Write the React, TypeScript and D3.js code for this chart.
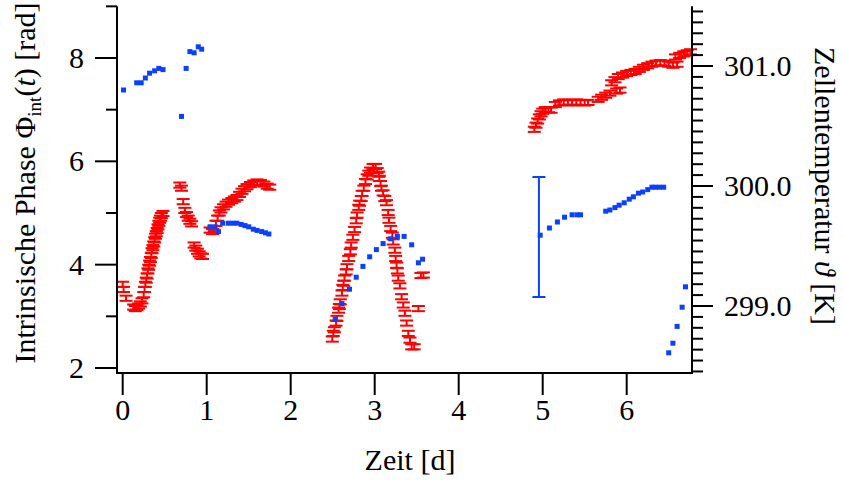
import React from "react";
import * as d3 from "d3";

// ---- data ----
const phaseDays = [
  0.0, 0.01, 0.04, 0.13, 0.15, 0.17, 0.19, 0.21, 0.23,
  0.25, 0.26, 0.27, 0.28, 0.29, 0.3, 0.31, 0.32, 0.33, 0.34, 0.35, 0.36, 0.37, 0.38, 0.39, 0.4, 0.41, 0.42, 0.43, 0.44, 0.45, 0.46, 0.48,
  0.68, 0.7, 0.72, 0.74, 0.76, 0.78, 0.8, 0.82,
  0.85, 0.87, 0.89, 0.91, 0.93, 0.95,
  1.04, 1.07, 1.09, 1.11, 1.13, 1.15, 1.17, 1.2, 1.23, 1.26, 1.3, 1.33, 1.36, 1.39, 1.42, 1.45, 1.48, 1.52, 1.56, 1.6, 1.64, 1.68, 1.72, 1.75,
  2.495, 2.507, 2.52, 2.54, 2.55, 2.57, 2.58, 2.59, 2.61, 2.62, 2.63, 2.64, 2.66, 2.67, 2.69, 2.71, 2.72, 2.74, 2.76, 2.78, 2.79, 2.81, 2.82, 2.84, 2.85, 2.87, 2.89, 2.91, 2.93, 2.95, 2.98,
  3.01, 3.03, 3.05, 3.055, 3.07, 3.08, 3.1, 3.12, 3.14, 3.16, 3.17, 3.19, 3.21, 3.22, 3.24, 3.25, 3.26, 3.27, 3.28, 3.3, 3.32, 3.34, 3.36, 3.38, 3.4, 3.42, 3.44, 3.47,
  3.52, 3.55, 3.58,
  4.9, 4.92, 4.94, 4.96, 4.98, 5.0, 5.03, 5.07, 5.1,
  5.15, 5.2, 5.25, 5.3, 5.35, 5.4, 5.45, 5.5, 5.54,
  5.66, 5.7, 5.75, 5.8, 5.88, 5.92,
  5.82, 5.86, 5.9, 5.95, 6.0, 6.05, 6.1,
  6.15, 6.2, 6.25, 6.3, 6.35, 6.4, 6.45, 6.5, 6.55, 6.6,
  6.58, 6.63, 6.68, 6.72, 6.76,
];
const phaseVals = [
  3.62, 3.52, 3.35, 3.18, 3.15, 3.17, 3.2, 3.24, 3.3,
  3.42, 3.52, 3.62, 3.7, 3.78, 3.88, 3.95, 4.03, 4.1, 4.18, 4.27, 4.33, 4.4, 4.48, 4.55, 4.6, 4.66, 4.73, 4.8, 4.86, 4.9, 4.95, 4.99,
  5.54, 5.48, 5.22, 5.05, 4.97, 4.9, 4.84, 4.79,
  4.38, 4.32, 4.26, 4.21, 4.17, 4.16,
  4.67, 4.64, 4.7, 4.8, 4.9, 5.0, 5.06, 5.12, 5.17, 5.21, 5.24, 5.27, 5.3, 5.36, 5.42, 5.47, 5.51, 5.55, 5.58, 5.6, 5.59, 5.56, 5.52, 5.5,
  2.56, 2.67, 2.74, 2.87, 2.96, 3.12, 3.19, 3.28, 3.45, 3.56, 3.64, 3.74, 3.86, 3.96, 4.12, 4.25, 4.38, 4.53, 4.68, 4.85, 4.96, 5.11, 5.19, 5.28, 5.38, 5.48, 5.61, 5.7, 5.77, 5.83, 5.9,
  5.9, 5.82, 5.75, 5.67, 5.57, 5.48, 5.39, 5.28, 5.2, 5.01, 4.86, 4.7, 4.57, 4.44, 4.28, 4.12, 3.99, 3.88, 3.74, 3.59, 3.38, 3.22, 3.06, 2.87, 2.67, 2.54, 2.41, 2.41,
  3.15, 3.79, 3.8,
  6.62, 6.7, 6.78, 6.86, 6.92, 6.97, 7.0, 7.0, 6.99,
  7.1, 7.13, 7.15, 7.14, 7.13, 7.15, 7.14, 7.13, 7.14,
  7.2, 7.24, 7.28, 7.32, 7.36, 7.38,
  7.52, 7.58, 7.64, 7.67, 7.7, 7.72, 7.74,
  7.78, 7.82, 7.85, 7.88, 7.9, 7.91, 7.9, 7.88, 7.86, 7.88,
  8.02, 8.05, 8.08, 8.1, 8.12,
];
const phaseErr = 0.05;

const tempDays = [
  0.01, 0.167, 0.22, 0.27, 0.32, 0.38, 0.43, 0.48, 0.7, 0.755, 0.8, 0.85, 0.9, 0.94,
  1.04, 1.1, 1.14, 1.19, 1.257, 1.31, 1.36, 1.41, 1.456, 1.5, 1.555, 1.6, 1.655, 1.7, 1.74,
  2.53, 2.61, 2.7, 2.78, 2.86, 2.94, 3.02, 3.1, 3.19, 3.27, 3.35, 3.44, 3.52, 3.57,
  4.97, 5.08, 5.175, 5.26, 5.35, 5.41, 5.45, 5.75, 5.8, 5.86, 5.91, 5.97, 6.03, 6.08, 6.14, 6.19, 6.25, 6.3, 6.34, 6.39, 6.44,
  6.5, 6.55, 6.6, 6.66, 6.7,
];
const tempVals = [
  300.8, 300.86, 300.86, 300.9, 300.94, 300.96, 300.98, 300.97, 300.58, 300.98, 301.12, 301.11, 301.16, 301.14,
  299.66, 299.66, 299.62, 299.69, 299.69, 299.69, 299.69, 299.68, 299.67, 299.66, 299.64, 299.63, 299.62, 299.61, 299.6,
  298.89, 299.02, 299.14, 299.24, 299.33, 299.41, 299.47, 299.52, 299.56, 299.58, 299.58, 299.51, 299.36, 299.39,
  299.59, 299.65, 299.7, 299.74, 299.76, 299.76, 299.76, 299.79, 299.8, 299.82, 299.84, 299.86, 299.89, 299.91, 299.94, 299.95, 299.97, 299.99, 299.99, 299.99, 299.99,
  298.61, 298.69, 298.83, 298.99, 299.16,
];
const tempErrorBars = [{ day: 4.955, value: 299.575, err: 0.5 }];

const xTicks = [0, 1, 2, 3, 4, 5, 6];
const leftMajor = [2, 4, 6, 8];
const leftMinor = [3, 5, 7, 9];
const rightMajor = [299, 300, 301];
const rightLabels = ["299.0", "300.0", "301.0"];

// ---- layout ----
const W = 844, H = 480;
const X0 = 117, X1 = 692, YB = 373;
const RED = "#ff0000";
const BLUE = "#0a40ff";
const FONT = "'Liberation Serif', 'Times New Roman', serif";

export default function App() {
  const x = d3.scaleLinear().domain([0, 6]).range([122.7, 626.7]);
  const yL = d3.scaleLinear().domain([2, 8]).range([368, 58]);
  const yR = d3.scaleLinear().domain([299, 301]).range([306, 66]);
  const yTop = yL(9);

  const rMin = yR.invert(YB), rMax = yR.invert(yTop + 4);
  const rightMinor: number[] = [];
  for (let k = -30; k <= 40; k++) {
    const v = 299 + k / 11;
    if (v >= rMin && v <= rMax) rightMinor.push(v);
  }

  const red = phaseDays.map((d, i) => ({ d, v: phaseVals[i] }));
  const blue = tempDays.map((d, i) => ({ d, v: tempVals[i] }));

  return (
    <svg width={W} height={H} style={{ position: "absolute", left: 0, top: 0, background: "#fff" }} fontFamily={FONT}>
      <rect width={W} height={H} fill="#fff" />
      {/* red phase points with error bars */}
      <g stroke={RED} strokeWidth={2} fill="none">
        {red.map((p, i) => {
          const cx = x(p.d);
          const y1 = yL(p.v + phaseErr), y2 = yL(p.v - phaseErr);
          return (
            <g key={i}>
              <line x1={cx - 6.5} x2={cx + 6.5} y1={y1} y2={y1} />
              <line x1={cx - 6.5} x2={cx + 6.5} y1={y2} y2={y2} />
              <line x1={cx} x2={cx} y1={y1} y2={y2} />
            </g>
          );
        })}
      </g>
      {/* blue error bar */}
      <g stroke={BLUE} strokeWidth={2}>
        {tempErrorBars.map((e, i) => {
          const cx = x(e.day);
          const a = yR(e.value + e.err), b = yR(e.value - e.err);
          return (
            <g key={i}>
              <line x1={cx} x2={cx} y1={a} y2={b} />
              <line x1={cx - 6.5} x2={cx + 6.5} y1={a} y2={a} />
              <line x1={cx - 6.5} x2={cx + 6.5} y1={b} y2={b} />
            </g>
          );
        })}
      </g>
      {/* blue temperature points */}
      <g fill={BLUE}>
        {blue.map((p, i) => (
          <rect key={i} x={x(p.d) - 2.5} y={yR(p.v) - 2.5} width={5} height={5} />
        ))}
      </g>

      {/* frame */}
      <g stroke="#000" strokeWidth={2} fill="none">
        <line x1={X0} x2={X0} y1={yTop} y2={YB + 1} />
        <line x1={X0} x2={X1 + 1} y1={YB} y2={YB} />
        <line x1={X1} x2={X1} y1={yTop} y2={YB + 1} />
        {xTicks.map((t) => (
          <line key={"xt" + t} x1={x(t)} x2={x(t)} y1={YB} y2={YB + 22} />
        ))}
        {leftMajor.map((t) => (
          <line key={"lM" + t} x1={X0 - 22} x2={X0} y1={yL(t)} y2={yL(t)} />
        ))}
        {leftMinor.map((t) => (
          <line key={"lm" + t} x1={X0 - 11} x2={X0} y1={yL(t)} y2={yL(t)} />
        ))}
        {rightMinor.map((t, i) => (
          <line key={"rm" + i} x1={X1} x2={X1 + 11} y1={yR(t)} y2={yR(t)} />
        ))}
        {rightMajor.map((t) => (
          <line key={"rM" + t} x1={X1} x2={X1 + 21} y1={yR(t)} y2={yR(t)} />
        ))}
      </g>

      {/* tick labels */}
      <g fontSize={30} fill="#000">
        {xTicks.map((t) => (
          <text key={"xl" + t} x={x(t)} y={420} textAnchor="middle">{t}</text>
        ))}
        {leftMajor.map((t) => (
          <text key={"ll" + t} x={84} y={yL(t) + 10} textAnchor="end">{t}</text>
        ))}
        {rightMajor.map((t, i) => (
          <text key={"rl" + t} x={724} y={yR(t) + 10} textAnchor="start">{rightLabels[i]}</text>
        ))}
      </g>

      {/* axis titles */}
      <text x={410} y={470} fontSize={30} textAnchor="middle">Zeit [d]</text>
      <text transform="translate(35,183) rotate(-90)" fontSize={30} textAnchor="middle">
        Intrinsische Phase Φ
        <tspan fontSize={19} dy={6}>int</tspan>
        <tspan dy={-6}>(</tspan>
        <tspan fontStyle="italic">t</tspan>
        <tspan>) [rad]</tspan>
      </text>
      <text transform="translate(815,186) rotate(90)" fontSize={30} textAnchor="middle">
        Zellentemperatur <tspan fontStyle="italic">ϑ</tspan> [K]
      </text>
    </svg>
  );
}
